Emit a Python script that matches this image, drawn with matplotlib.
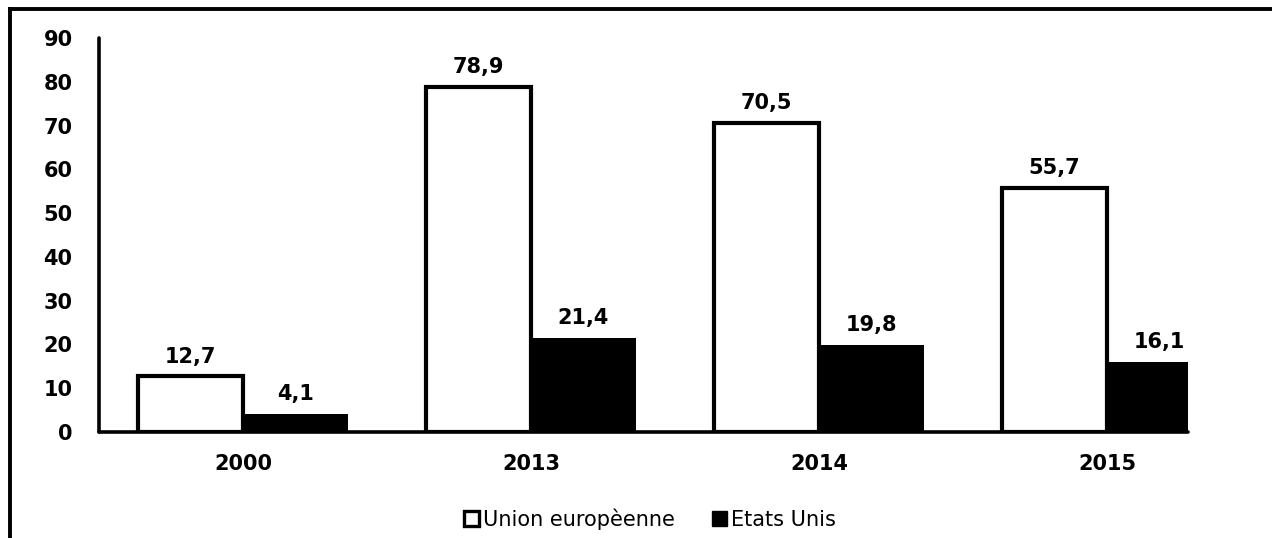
import numpy as np
import matplotlib
matplotlib.use("Agg")
from matplotlib import pyplot as plt
from matplotlib.lines import Line2D
from matplotlib.patches import Patch

# Données
annees = ["2000", "2013", "2014", "2015"]
union_europeenne = [12.7, 78.9, 70.5, 55.7]
etats_unis = [4.1, 21.4, 19.8, 16.1]
series = ["Union europèenne", "Etats Unis"]

plt.rcParams['font.family'] = ['DejaVu Sans']

fig = plt.figure(figsize=(12.72, 5.38), dpi=100)
ax = fig.add_axes([99/1272, 1 - 432/538, (1188 - 99)/1272, (432 - 38)/538])

x = np.arange(len(annees))
w = 0.365

b1 = ax.bar(x - w/2, union_europeenne, w, color="white", edgecolor="black", linewidth=3.0, zorder=2)
b2 = ax.bar(x + w/2, etats_unis, w, color="black", edgecolor="black", linewidth=0, zorder=2)

for rects, vals in ((b1, union_europeenne), (b2, etats_unis)):
    for r, v in zip(rects, vals):
        ax.annotate(("%.1f" % v).replace(".", ","),
                    (r.get_x() + r.get_width()/2, r.get_height()),
                    xytext=(0, 10), textcoords="offset points",
                    ha="center", va="baseline", fontsize=15, fontweight="bold")

ax.set_xlim(-0.5, (1188 - 243)/288)
ax.set_ylim(0, 90)
ax.set_yticks(range(0, 91, 10))
ax.set_xticks(x)
ax.set_xticklabels(annees)
ax.tick_params(axis="both", length=0, labelsize=15)
ax.tick_params(axis="y", pad=19)
ax.tick_params(axis="x", pad=16)
for lab in ax.get_xticklabels() + ax.get_yticklabels():
    lab.set_fontweight("bold")

for s in ["top", "right"]:
    ax.spines[s].set_visible(False)
for s in ["left", "bottom"]:
    ax.spines[s].set_linewidth(2.6)
    ax.spines[s].set_capstyle("round")
ax.spines["bottom"].set_zorder(3)

handles = [Patch(facecolor="white", edgecolor="black", linewidth=2.4),
           Patch(facecolor="black", edgecolor="black")]
fig.legend(handles, series, loc="center", bbox_to_anchor=(650/1272, 1 - 519/538),
           ncol=2, frameon=False, fontsize=15, handlelength=0.7, handleheight=0.7,
           handletextpad=0.2, columnspacing=1.8)

# cadre autour du graphique
fig.add_artist(Line2D([10/1272, 1.0], [1 - 8.5/538, 1 - 8.5/538], transform=fig.transFigure,
                      color="black", linewidth=2.8, solid_capstyle="projecting"))
fig.add_artist(Line2D([10/1272, 10/1272], [0.0, 1 - 8.5/538], transform=fig.transFigure,
                      color="black", linewidth=2.8, solid_capstyle="projecting"))

fig.savefig("out.png", dpi=100)
